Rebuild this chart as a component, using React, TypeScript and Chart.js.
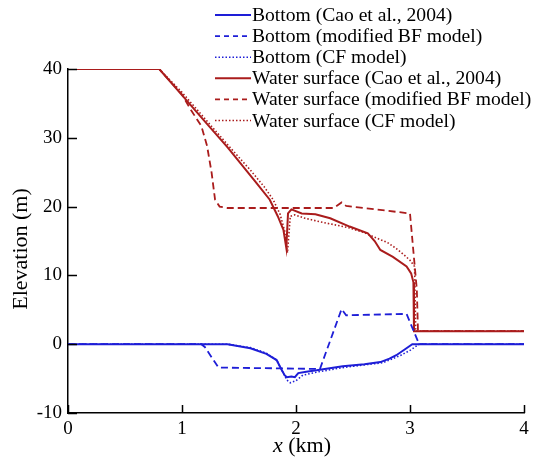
import React, { useEffect, useRef } from "react";
import { Chart, registerables } from "chart.js";
Chart.register(...registerables);

// ---- data (x in km, elevation in m) ----
const bottomCaoX = [0, 1.4, 1.6, 1.74, 1.83, 1.87, 1.9, 1.92, 1.96, 1.99, 2.02, 2.09, 2.18, 2.41, 2.6, 2.74, 2.82, 2.88, 2.95, 3.02, 4];
const bottomCaoY = [0, 0, -0.6, -1.4, -2.3, -3.6, -4.5, -4.8, -4.7, -4.8, -4.2, -4.0, -3.8, -3.2, -2.9, -2.6, -2.1, -1.6, -0.8, 0, 0];

const bottomBFX = [0, 1.17, 1.2, 1.32, 1.8, 2.21, 2.4, 2.44, 2.97, 3.08, 4];
const bottomBFY = [0, 0, -0.4, -3.4, -3.5, -3.6, 5.1, 4.2, 4.4, 0, 0];

const bottomCFX = [0, 1.4, 1.6, 1.74, 1.83, 1.88, 1.92, 1.95, 2.0, 2.06, 2.2, 2.41, 2.6, 2.76, 2.85, 2.92, 3.0, 3.08, 4];
const bottomCFY = [0, 0, -0.5, -1.3, -2.3, -3.9, -5.2, -5.6, -5.3, -4.5, -4.0, -3.4, -3.0, -2.7, -2.1, -1.6, -0.9, 0, 0];

const waterCaoX = [0, 0.8, 1.0, 1.2, 1.4, 1.64, 1.77, 1.84, 1.89, 1.915, 1.93, 1.96, 2.05, 2.17, 2.3, 2.47, 2.63, 2.69, 2.74, 2.85, 2.97, 3.01, 3.03, 3.035, 4];
const waterCaoY = [40, 40, 36.2, 32.4, 28.6, 23.7, 21.0, 18.6, 16.6, 14.0, 19.0, 19.6, 19.0, 18.9, 18.3, 17.1, 16.1, 15.0, 13.7, 12.7, 11.3, 10.3, 9.0, 1.9, 1.9];

const waterBFX = [0, 0.8, 1.0, 1.08, 1.17, 1.22, 1.26, 1.29, 1.33, 1.4, 2.0, 2.33, 2.4, 2.44, 2.7, 3.0, 3.06, 3.07, 4];
const waterBFY = [40, 40, 36.3, 34.0, 31.7, 28.8, 24.9, 21.0, 20.0, 19.8, 19.8, 19.8, 20.6, 20.1, 19.6, 19.0, 7.9, 1.9, 1.9];

const waterCFX = [0, 0.8, 1.0, 1.2, 1.4, 1.6, 1.72, 1.8, 1.86, 1.9, 1.925, 1.95, 1.99, 2.08, 2.21, 2.47, 2.6, 2.71, 2.8, 2.88, 2.96, 3.0, 3.04, 3.05, 4];
const waterCFY = [40, 40, 36.6, 32.8, 29.0, 25.3, 22.9, 21.0, 18.9, 16.5, 13.3, 18.6, 18.8, 18.3, 17.8, 16.9, 16.2, 15.4, 14.8, 13.9, 12.8, 12.2, 11.3, 1.9, 1.9];

const legendLabels = [
  "Bottom (Cao et al., 2004)",
  "Bottom (modified BF model)",
  "Bottom (CF model)",
  "Water surface (Cao et al., 2004)",
  "Water surface (modified BF model)",
  "Water surface (CF model)",
];
const xTicks = [0, 1, 2, 3, 4];
const yTicks = [-10, 0, 10, 20, 30, 40];

const BLUE = "rgb(30,30,215)";
const RED = "rgb(170,28,28)";
const SERIF = "'Liberation Serif', 'Times New Roman', serif";

const pts = (xs: number[], ys: number[]) => xs.map((x, i) => ({ x, y: ys[i] }));

export default function App() {
  const ref = useRef<HTMLCanvasElement | null>(null);
  useEffect(() => {
    if (!ref.current) return;
    const styles = [
      { c: BLUE, dash: [] as number[], w: 2 },
      { c: BLUE, dash: [7, 4], w: 1.8 },
      { c: BLUE, dash: [1.5, 2], w: 1.6 },
      { c: RED, dash: [] as number[], w: 2 },
      { c: RED, dash: [7, 4], w: 1.8 },
      { c: RED, dash: [1.5, 2], w: 1.6 },
    ];
    const series = [
      pts(bottomCaoX, bottomCaoY),
      pts(bottomBFX, bottomBFY),
      pts(bottomCFX, bottomCFY),
      pts(waterCaoX, waterCaoY),
      pts(waterBFX, waterBFY),
      pts(waterCFX, waterCFY),
    ];
    const datasets = series.map((d, i) => ({
      label: legendLabels[i],
      data: d,
      borderColor: styles[i].c,
      borderDash: styles[i].dash,
      borderWidth: styles[i].w,
      pointRadius: 0,
      tension: 0,
      fill: false,
    }));

    const decor = {
      id: "decor",
      afterDraw(chart: any) {
        const ctx = chart.ctx;
        const xs = chart.scales.x;
        const ys = chart.scales.y;
        const area = chart.chartArea;
        ctx.save();
        // inward ticks
        ctx.strokeStyle = "#000";
        ctx.lineWidth = 1.5;
        ctx.setLineDash([]);
        ctx.beginPath();
        yTicks.forEach((v) => {
          const py = Math.round(ys.getPixelForValue(v)) + 0.5;
          ctx.moveTo(area.left, py);
          ctx.lineTo(area.left + 9, py);
        });
        xTicks.forEach((v) => {
          const px = Math.round(xs.getPixelForValue(v)) + 0.5;
          ctx.moveTo(px, area.bottom);
          ctx.lineTo(px, area.bottom - 8);
        });
        ctx.stroke();

        // y title
        ctx.fillStyle = "#000";
        ctx.font = `22px ${SERIF}`;
        ctx.save();
        ctx.translate(27, 249);
        ctx.rotate(-Math.PI / 2);
        ctx.textAlign = "center";
        ctx.textBaseline = "alphabetic";
        ctx.fillText("Elevation (m)", 0, 0);
        ctx.restore();

        // x title: italic x + (km)
        ctx.textBaseline = "alphabetic";
        ctx.textAlign = "left";
        ctx.font = `italic 22px ${SERIF}`;
        const xW = ctx.measureText("x").width;
        ctx.font = `22px ${SERIF}`;
        const rest = " (km)";
        const rW = ctx.measureText(rest).width;
        const cx = (area.left + area.right) / 2 + 6;
        const start = cx - (xW + rW) / 2;
        ctx.font = `italic 22px ${SERIF}`;
        ctx.fillText("x", start, 452);
        ctx.font = `22px ${SERIF}`;
        ctx.fillText(rest, start + xW, 452);

        // legend
        ctx.font = `19.6px ${SERIF}`;
        legendLabels.forEach((lab, i) => {
          const ly = 15 + 21.1 * i;
          const st = styles[i];
          ctx.strokeStyle = st.c;
          ctx.lineWidth = st.w;
          ctx.setLineDash(i % 3 === 1 ? [5, 4] : i % 3 === 2 ? [1.5, 2] : []);
          ctx.beginPath();
          ctx.moveTo(215, ly);
          ctx.lineTo(251, ly);
          ctx.stroke();
          ctx.fillStyle = "#000";
          ctx.fillText(lab, 252, ly + 6);
        });
        ctx.restore();
      },
    };

    const chart = new Chart(ref.current, {
      type: "line",
      data: { datasets },
      options: {
        animation: false,
        responsive: false,
        devicePixelRatio: 1,
        layout: { padding: { top: 69, right: 15, left: 0, bottom: 0 } },
        plugins: { legend: { display: false }, tooltip: { enabled: false } },
        scales: {
          x: {
            type: "linear",
            min: 0,
            max: 4,
            afterFit: (s: any) => {
              s.height = 46;
            },
            afterBuildTicks: (s: any) => {
              s.ticks = xTicks.map((v) => ({ value: v }));
            },
            ticks: { color: "#000", font: { family: SERIF, size: 19 }, padding: 5, maxRotation: 0 },
            grid: { display: false, drawTicks: false },
            border: { display: true, color: "#000", width: 1.5 },
          },
          y: {
            type: "linear",
            min: -10,
            max: 40,
            afterFit: (s: any) => {
              s.width = 68;
            },
            afterBuildTicks: (s: any) => {
              s.ticks = yTicks.map((v) => ({ value: v }));
            },
            ticks: { color: "#000", font: { family: SERIF, size: 19 }, padding: 6 },
            grid: { display: false, drawTicks: false },
            border: { display: true, color: "#000", width: 1.5 },
          },
        },
      },
      plugins: [decor],
    } as any);
    return () => chart.destroy();
  }, []);
  return (
    <div style={{ position: "absolute", left: 0, top: 0, width: 539, height: 459, background: "#fff" }}>
      <canvas ref={ref} width={539} height={459} style={{ display: "block", width: 539, height: 459 }} />
    </div>
  );
}
